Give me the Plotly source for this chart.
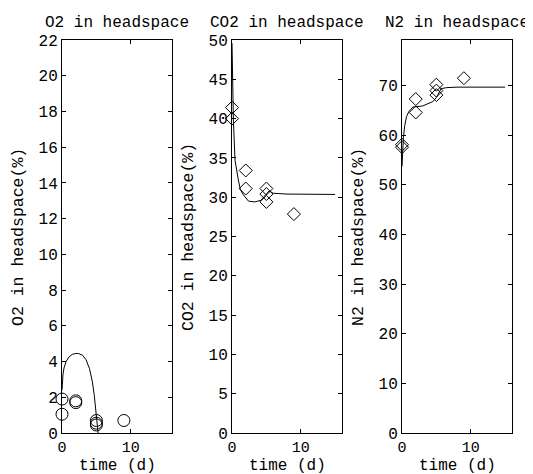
import plotly.graph_objects as go

# Measured data
t_obs = [0, 0, 2, 2, 5, 5, 5, 9]
o2_obs = [1.9, 1.05, 1.8, 1.7, 0.7, 0.55, 0.45, 0.7]
co2_obs = [41.4, 40.0, 33.4, 31.1, 31.1, 30.4, 29.4, 27.85]
n2_obs = [58.1, 57.6, 64.6, 67.3, 68.1, 69.0, 70.2, 71.5]

# Model curves
t_o2 = [0, 0.05, 0.15, 0.3, 0.6, 1.0, 1.5, 2.0, 2.4, 3.0, 3.5, 4.0, 4.4, 4.7, 4.95, 5.1, 5.2, 5.25]
o2_mod = [2.4, 2.9, 3.3, 3.65, 4.0, 4.25, 4.4, 4.45, 4.45, 4.35, 4.1, 3.6, 2.9, 2.1, 1.2, 0.6, 0.2, 0.0]

t_co2 = [0, 0.05, 0.2, 0.44, 0.7, 0.92, 1.2, 1.65, 2.4, 3.3, 4.2, 5.0, 5.4, 6.0, 8.0, 15.0]
co2_mod = [49.6, 46.0, 39.8, 34.7, 33.0, 32.2, 31.0, 30.3, 29.5, 29.4, 29.6, 30.5, 30.8, 30.5, 30.4, 30.35]

t_n2 = [0, 0.05, 0.2, 0.4, 0.67, 1.0, 1.6, 3.0, 4.5, 5.0, 5.4, 5.7, 6.5, 8.0, 15.0]
n2_mod = [53.7, 56.0, 59.5, 62.0, 63.8, 64.8, 65.7, 65.9, 66.8, 67.6, 68.6, 69.4, 69.6, 69.7, 69.7]

titles = ["O2 in headspace", "CO2 in headspace", "N2 in headspace"]
ylabels = ["O2 in headspace(%)", "CO2 in headspace(%)", "N2 in headspace(%)"]
yranges = [[0, 22], [0, 50], [0, 79.2]]
ydticks = [2, 5, 10]

W, H = 533, 474
OFF = 8  # page body margin
FONT = "Liberation Mono, Courier New, monospace"
FS = 16

fig = go.Figure()
obs = [o2_obs, co2_obs, n2_obs]
mods = [(t_o2, o2_mod), (t_co2, co2_mod), (t_n2, n2_mod)]
symbols = ["circle-open", "diamond-open", "diamond-open"]
sizes = [12, 10, 10]

xdoms_px = [(62, 172), (232, 342), (402, 512)]
ytop, ybot = 40, 433


def px(x):
    return (x - OFF) / W


def py(y):
    return 1 - (y - OFF) / H


for i in range(3):
    xa = "x" if i == 0 else f"x{i+1}"
    ya = "y" if i == 0 else f"y{i+1}"
    fig.add_trace(go.Scatter(x=mods[i][0], y=mods[i][1], mode="lines",
                             line=dict(color="black", width=1),
                             xaxis=xa, yaxis=ya, showlegend=False, cliponaxis=True))
    fig.add_trace(go.Scatter(x=t_obs, y=obs[i], mode="markers",
                             marker=dict(symbol=symbols[i], size=sizes[i], color="black",
                                         line=dict(color="black", width=1)),
                             xaxis=xa, yaxis=ya, showlegend=False, cliponaxis=False))

layout = dict(template="none", width=W, height=H,
              margin=dict(l=0, r=0, t=0, b=0, autoexpand=False),
              paper_bgcolor="white", plot_bgcolor="white",
              font=dict(family=FONT, size=FS, color="black"))

annotations = []
for i in range(3):
    x0, x1 = xdoms_px[i]
    xdom = [px(x0), px(x1)]
    ydom = [py(ybot), py(ytop)]
    suffix = "" if i == 0 else str(i + 1)
    common = dict(showline=True, linecolor="black", linewidth=1, mirror="ticks",
                  ticks="inside", ticklen=4, tickcolor="black", showgrid=False,
                  zeroline=False, automargin=False)
    layout["xaxis" + suffix] = dict(domain=xdom, range=[0, 16], dtick=10, tick0=0,
                                    anchor="y" + suffix,
                                    tickfont=dict(family=FONT, size=15, color="black"),
                                    **common)
    layout["yaxis" + suffix] = dict(domain=ydom, range=yranges[i], dtick=ydticks[i], tick0=0,
                                    anchor="x" + suffix,
                                    tickfont=dict(family=FONT, size=16, color="black"),
                                    **common)
    cx = px((x0 + x1) / 2)
    annotations.append(dict(text=titles[i], x=cx, y=py(23), xref="paper", yref="paper",
                            showarrow=False, xanchor="center", yanchor="middle",
                            font=dict(family=FONT, size=16, color="black")))
    annotations.append(dict(text="time (d)", x=cx, y=py(466), xref="paper", yref="paper",
                            showarrow=False, xanchor="center", yanchor="middle",
                            font=dict(family=FONT, size=16, color="black")))
    annotations.append(dict(text=ylabels[i], x=px(x0 - 44), y=py(237), xref="paper",
                            yref="paper", showarrow=False, xanchor="center", yanchor="middle",
                            textangle=-90, font=dict(family=FONT, size=16.5, color="black")))

layout["annotations"] = annotations
fig.update_layout(**layout)
fig.write_html("out.html")
